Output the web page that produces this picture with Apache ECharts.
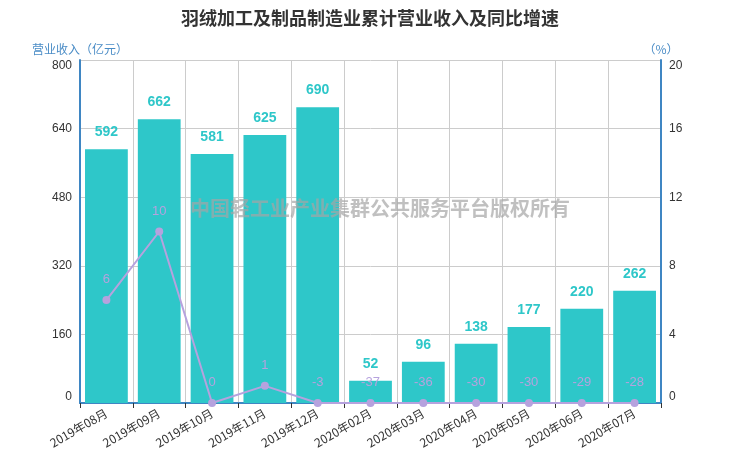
<!DOCTYPE html>
<html>
<head>
<meta charset="utf-8">
<script src="https://cdn.jsdelivr.net/npm/echarts@6/dist/echarts.min.js"></script>
<style>html,body{margin:0;padding:0;background:#fff}#c{width:740px;height:462px}</style>
</head>
<body>
<div id="c"></div>
<script>
var titleText = '羽绒加工及制品制造业累计营业收入及同比增速';
var categories = ['2019年08月','2019年09月','2019年10月','2019年11月','2019年12月','2020年02月','2020年03月','2020年04月','2020年05月','2020年06月','2020年07月'];
var revenue = [592, 662, 581, 625, 690, 52, 96, 138, 177, 220, 262];
var growth = [6, 10, 0, 1, -3, -37, -36, -30, -30, -29, -28];
var leftTicks = {min: 0, max: 800, interval: 160};
var rightTicks = {min: 0, max: 20, interval: 4};
var watermark = '中国轻工业产业集群公共服务平台版权所有';

var chart = echarts.init(document.getElementById('c'));
var axisBlue = '#3f86c3';
chart.setOption({
  animation: false,
  title: {
    text: titleText, left: 'center', top: 4,
    textStyle: {fontSize: 18, fontWeight: 'bold', color: '#333', fontFamily: 'Noto Sans CJK SC'}
  },
  grid: {left: 80, right: 79, top: 60, bottom: 59, containLabel: false},
  graphic: [{
    type: 'text', left: 190, top: 198, z: 100,
    style: {text: watermark, font: 'bold 20px "Noto Sans CJK SC"', fill: 'rgba(165,165,165,0.7)'}
  }],
  xAxis: {
    type: 'category', data: categories,
    axisLine: {lineStyle: {color: axisBlue, width: 2}},
    axisTick: {show: true, alignWithLabel: false, lineStyle: {color: '#333'}},
    splitLine: {show: true, lineStyle: {color: '#ccc'}},
    axisLabel: {rotate: 30, interval: 0, color: '#333', fontSize: 12, fontFamily: 'Noto Sans CJK SC', margin: 9}
  },
  yAxis: [{
    type: 'value', name: '营业收入（亿元）', nameGap: 5,
    nameTextStyle: {color: '#4a8cc6', fontSize: 12, fontFamily: 'Noto Sans CJK SC', align: 'center'},
    min: leftTicks.min, max: leftTicks.max, interval: leftTicks.interval,
    axisLine: {show: true, lineStyle: {color: axisBlue, width: 2}},
    axisTick: {show: false},
    splitLine: {show: true, lineStyle: {color: '#ccc'}},
    axisLabel: {color: '#333', fontSize: 12, verticalAlignMinLabel: 'bottom', verticalAlignMaxLabel: 'top'}
  }, {
    type: 'value', name: '（%）', nameGap: 5,
    nameTextStyle: {color: '#4a8cc6', fontSize: 12, fontFamily: 'Noto Sans CJK SC'},
    min: rightTicks.min, max: rightTicks.max, interval: rightTicks.interval,
    axisLine: {show: true, lineStyle: {color: axisBlue, width: 2}},
    axisTick: {show: false},
    splitLine: {show: false},
    axisLabel: {color: '#333', fontSize: 12, verticalAlignMinLabel: 'bottom', verticalAlignMaxLabel: 'top'}
  }],
  series: [{
    type: 'bar', data: revenue, barWidth: '81%', yAxisIndex: 0,
    itemStyle: {color: '#2ec7c9'},
    label: {show: true, position: 'top', distance: 10, color: '#2ec7c9', fontWeight: 'bold', fontSize: 14, fontFamily: 'Arial'}
  }, {
    type: 'line', yAxisIndex: 1,
    data: growth.map(function (v) { return Math.max(v, rightTicks.min); }),
    symbol: 'circle', symbolSize: 8,
    lineStyle: {color: '#b6a2de', width: 2},
    itemStyle: {color: '#b6a2de'},
    label: {show: true, position: 'top', distance: 10, color: '#b6a2de', fontSize: 13,
      formatter: function (p) { return String(growth[p.dataIndex]); }}
  }]
});
</script>
</body>
</html>
